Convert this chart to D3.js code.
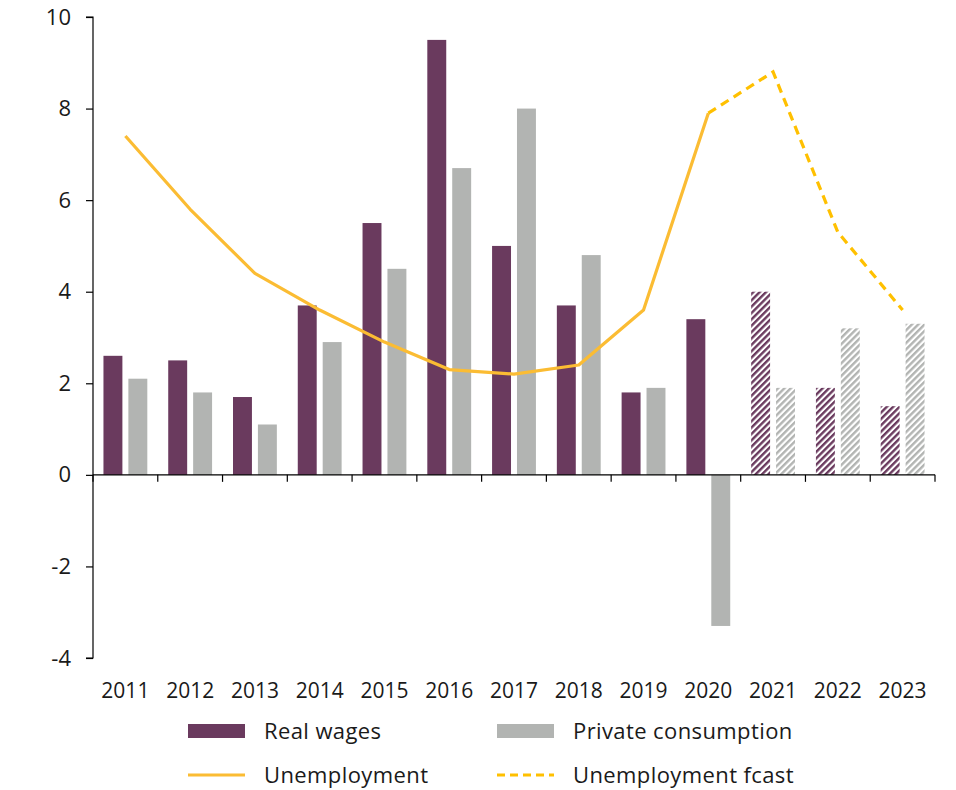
<!DOCTYPE html>
<html>
<head>
<meta charset="utf-8">
<script src="https://cdn.jsdelivr.net/npm/d3@7"></script>
<style>
  html, body { margin: 0; padding: 0; background: #fff; }
  svg text { font-family: "Open Sans", sans-serif; fill: #1a1a1a; }
</style>
</head>
<body>
<svg id="chart" width="956" height="790"></svg>
<script>
// Years on the category axis; the last three are forecasts
const years = ["2011","2012","2013","2014","2015","2016","2017","2018","2019","2020","2021","2022","2023"];
const forecastYears = ["2021","2022","2023"];

// Annual % change
const realWages = [2.6, 2.5, 1.7, 3.7, 5.5, 9.5, 5.0, 3.7, 1.8, 3.4, 4.0, 1.9, 1.5];
const privateConsumption = [2.1, 1.8, 1.1, 2.9, 4.5, 6.7, 8.0, 4.8, 1.9, -3.3, 1.9, 3.2, 3.3];

// Unemployment rate, %
const unemploymentYears = ["2011","2012","2013","2014","2015","2016","2017","2018","2019","2020"];
const unemployment = [7.4, 5.8, 4.4, 3.6, 2.9, 2.3, 2.2, 2.4, 3.6, 7.9];
const fcastYears = ["2020","2021","2022","2023"];
const unemploymentFcast = [7.9, 8.8, 5.3, 3.6];

const yTicks = [-4, -2, 0, 2, 4, 6, 8, 10];

const colors = {
  wages: "#6a3a5e",
  consumption: "#b2b4b2",
  unemp: "#fbbc33",
  fcast: "#ffc000"
};

const svg = d3.select("#chart");
const margin = { left: 93, right: 21, top: 17, bottom: 132 };
const W = 956, H = 790;

const x = d3.scaleBand().domain(years).range([margin.left, W - margin.right]).paddingInner(0).paddingOuter(0);
const x1 = d3.scaleBand().domain(["wages", "consumption"]).range([0, x.bandwidth()]).paddingInner(0.24).paddingOuter(0.42);
const y = d3.scaleLinear().domain([-4, 10]).range([H - margin.bottom, margin.top]);

// Hatch patterns for forecast bars
const defs = svg.append("defs");
function hatch(id, color) {
  const p = defs.append("pattern")
    .attr("id", id)
    .attr("patternUnits", "userSpaceOnUse")
    .attr("width", 4.5).attr("height", 4.5)
    .attr("patternTransform", "rotate(45)");
  p.append("rect").attr("width", 4.5).attr("height", 4.5).attr("fill", "#fff");
  p.append("rect").attr("width", 2.4).attr("height", 4.5).attr("fill", color);
}
hatch("hatch-wages", colors.wages);
hatch("hatch-cons", colors.consumption);

const isF = yr => forecastYears.includes(yr);

// Bars
const g = svg.append("g");
function bars(values, key, color, hatchId) {
  g.selectAll("rect." + key)
    .data(values.map((v, i) => ({ year: years[i], v })))
    .join("rect")
    .attr("class", key)
    .attr("x", d => x(d.year) + x1(key))
    .attr("width", x1.bandwidth())
    .attr("y", d => y(Math.max(0, d.v)))
    .attr("height", d => Math.abs(y(d.v) - y(0)))
    .attr("fill", d => isF(d.year) ? `url(#${hatchId})` : color);
}
bars(realWages, "wages", colors.wages, "hatch-wages");
bars(privateConsumption, "consumption", colors.consumption, "hatch-cons");

// Axes
const yAxis = d3.axisLeft(y).tickValues(yTicks).tickSize(7).tickPadding(15).tickFormat(d => String(d));
const ya = svg.append("g").attr("transform", `translate(${margin.left},0)`).call(yAxis);
ya.select(".domain").attr("stroke", "#000").attr("stroke-width", 1.2).attr("d", `M-7,${y(10)}H0V${y(-4)}H-7`);
ya.selectAll(".tick line").attr("stroke", "#000").attr("stroke-width", 1.2);
ya.selectAll(".tick text").attr("font-size", 22).attr("fill", "#1a1a1a").style("font-family", "'Open Sans', sans-serif");

// Category axis at zero with ticks on band boundaries
const xa = svg.append("g").attr("transform", `translate(0,${y(0)})`);
xa.append("line").attr("x1", margin.left).attr("x2", W - margin.right)
  .attr("stroke", "#000").attr("stroke-width", 1.2);
const bounds = years.map(yr => x(yr)).concat([x(years[years.length - 1]) + x.bandwidth()]);
xa.selectAll("line.tk").data(bounds).join("line").attr("class", "tk")
  .attr("x1", d => d).attr("x2", d => d).attr("y1", 0).attr("y2", 7)
  .attr("stroke", "#000").attr("stroke-width", 1.2);

svg.append("g").selectAll("text").data(years).join("text")
  .attr("x", d => x(d) + x.bandwidth() / 2)
  .attr("y", 698)
  .attr("text-anchor", "middle")
  .attr("font-size", 21)
  .text(d => d);

// Unemployment lines
const line = d3.line().x(d => x(d[0]) + x.bandwidth() / 2).y(d => y(d[1]));
svg.append("path")
  .datum(unemploymentYears.map((yr, i) => [yr, unemployment[i]]))
  .attr("d", line).attr("fill", "none")
  .attr("stroke", colors.unemp).attr("stroke-width", 3.2).attr("stroke-linejoin", "round");
svg.append("path")
  .datum(fcastYears.map((yr, i) => [yr, unemploymentFcast[i]]))
  .attr("d", line).attr("fill", "none")
  .attr("stroke", colors.fcast).attr("stroke-width", 3.2).attr("stroke-dasharray", "9,6");

// Legend
const legend = svg.append("g");
const items = [
  { label: "Real wages", type: "rect", color: colors.wages, x: 188, y: 731 },
  { label: "Private consumption", type: "rect", color: colors.consumption, x: 497, y: 731 },
  { label: "Unemployment", type: "line", color: colors.unemp, x: 188, y: 775 },
  { label: "Unemployment fcast", type: "dash", color: colors.fcast, x: 497, y: 775 }
];
items.forEach(it => {
  if (it.type === "rect") {
    legend.append("rect").attr("x", it.x).attr("y", it.y - 7).attr("width", 57).attr("height", 14).attr("fill", it.color);
  } else {
    legend.append("line").attr("x1", it.x).attr("x2", it.x + 57).attr("y1", it.y).attr("y2", it.y)
      .attr("stroke", it.color).attr("stroke-width", 3.2)
      .attr("stroke-dasharray", it.type === "dash" ? "8,5" : null);
  }
  legend.append("text").attr("x", it.x + 76).attr("y", it.y).attr("dy", "0.35em")
    .attr("font-size", 22).attr("letter-spacing", 0.4).text(it.label);
});
</script>
</body>
</html>
